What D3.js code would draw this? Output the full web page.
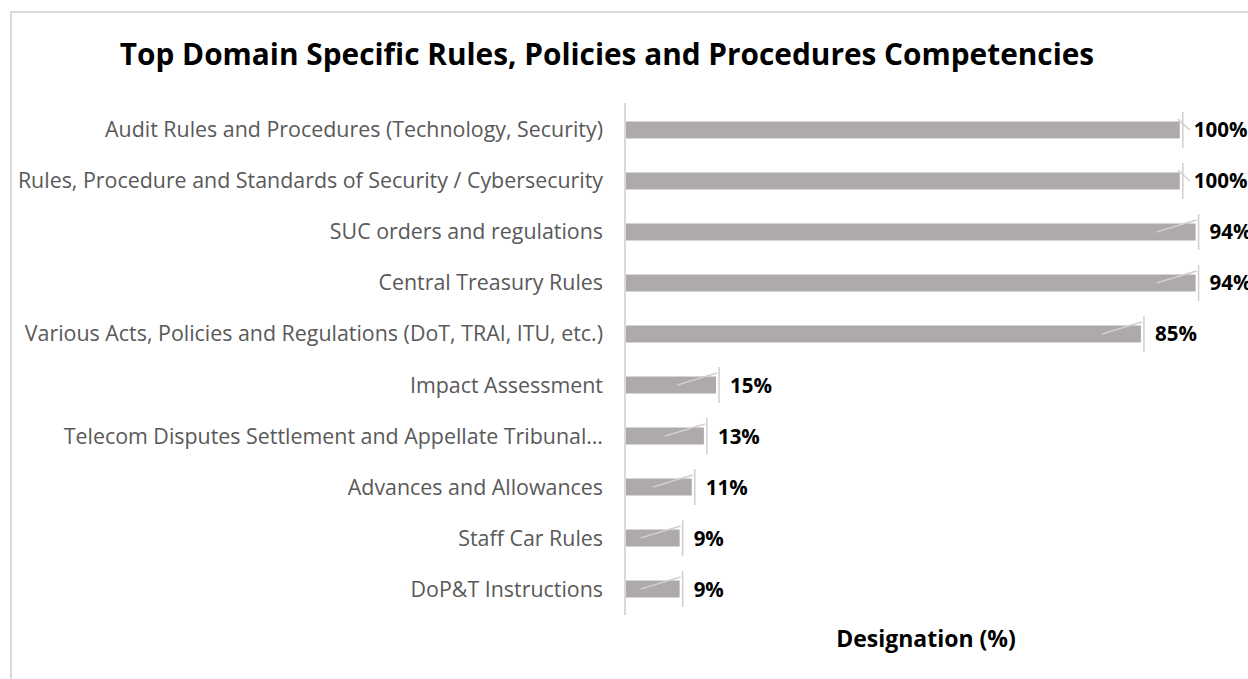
<!DOCTYPE html>
<html>
<head>
<meta charset="utf-8">
<script src="https://cdn.jsdelivr.net/npm/d3@7"></script>
<style>
  body { margin: 0; background: #fff; }
  svg { display: block; font-family: "Open Sans", sans-serif; }
</style>
</head>
<body>
<div id="chart"></div>
<script>
var width = 1248, height = 679;

// categories top to bottom
var categories = [
  "Audit Rules and Procedures (Technology, Security)",
  "Rules, Procedure and Standards of Security / Cybersecurity",
  "SUC orders and regulations",
  "Central Treasury Rules",
  "Various Acts, Policies and Regulations (DoT, TRAI, ITU, etc.)",
  "Impact Assessment",
  "Telecom Disputes Settlement and Appellate Tribunal\u2026",
  "Advances and Allowances",
  "Staff Car Rules",
  "DoP&T Instructions"
];
// bar lengths as drawn (the 100% bars are drawn a bit short in the source)
var barValues = [91.4, 91.4, 94, 94, 85, 15, 13, 11, 9, 9];
var valueLabels = ["100%", "100%", "94%", "94%", "85%", "15%", "13%", "11%", "9%", "9%"];
// leader line kind: 1 = back-slash stub, 0 = long diagonal
var leaderKind = [1, 1, 0, 0, 0, 0, 0, 0, 0, 0];

var svg = d3.select("#chart").append("svg")
  .attr("width", width)
  .attr("height", height);

// chart frame (runs off the right and bottom edges)
svg.append("rect")
  .attr("x", 11).attr("y", 12)
  .attr("width", 1300).attr("height", 700)
  .attr("fill", "none")
  .attr("stroke", "#d9d9d9")
  .attr("stroke-width", 2);

var x = d3.scaleLinear().domain([0, 100]).range([625, 1232]);
var y = d3.scaleBand().domain(categories).range([104.5, 614.5]).paddingInner(0.667).paddingOuter(0.333);

svg.append("text")
  .text("Top Domain Specific Rules, Policies and Procedures Competencies")
  .attr("x", 607).attr("y", 65)
  .attr("text-anchor", "middle")
  .attr("font-weight", "bold")
  .attr("font-size", 29.8)
  .attr("fill", "#000");

// category labels
svg.selectAll(".cat").data(categories).enter().append("text")
  .attr("class", "cat")
  .text(function(d){ return d; })
  .attr("x", 603)
  .attr("y", function(d){ return y(d) + y.bandwidth()/2 + 7.5; })
  .attr("text-anchor", "end")
  .attr("font-size", 21.4)
  .attr("fill", "#595959");

// bars
svg.selectAll(".bar").data(categories).enter().append("rect")
  .attr("class", "bar")
  .attr("x", x(0))
  .attr("y", function(d){ return y(d); })
  .attr("width", function(d, i){ return x(barValues[i]) - x(0); })
  .attr("height", y.bandwidth())
  .attr("fill", "#aeaaaa");

// leader lines and value labels
categories.forEach(function(d, i){
  var xe = x(barValues[i]);
  var cy = y(d) + y.bandwidth()/2;
  var g = svg.append("g").attr("stroke", "#d0cece").attr("stroke-width", 1.5);
  g.append("line")
    .attr("x1", xe + 3).attr("x2", xe + 3)
    .attr("y1", cy - 18).attr("y2", cy + 18);
  if (leaderKind[i]) {
    g.append("line")
      .attr("x1", xe - 2).attr("y1", cy - 11)
      .attr("x2", xe + 10).attr("y2", cy);
  } else {
    g.append("line")
      .attr("x1", xe - 39).attr("y1", cy)
      .attr("x2", xe + 1).attr("y2", cy - 12);
  }
  svg.append("text")
    .text(valueLabels[i])
    .attr("x", xe + 14)
    .attr("y", cy + 7.5)
    .attr("font-weight", "bold")
    .attr("font-size", 20.5)
    .attr("fill", "#000");
});

// axis line
svg.append("line")
  .attr("x1", 625).attr("x2", 625)
  .attr("y1", 103).attr("y2", 615)
  .attr("stroke", "#d9d9d9")
  .attr("stroke-width", 2);

svg.append("text")
  .text("Designation (%)")
  .attr("x", 926).attr("y", 647)
  .attr("text-anchor", "middle")
  .attr("font-weight", "bold")
  .attr("font-size", 23)
  .attr("fill", "#000");
</script>
</body>
</html>
